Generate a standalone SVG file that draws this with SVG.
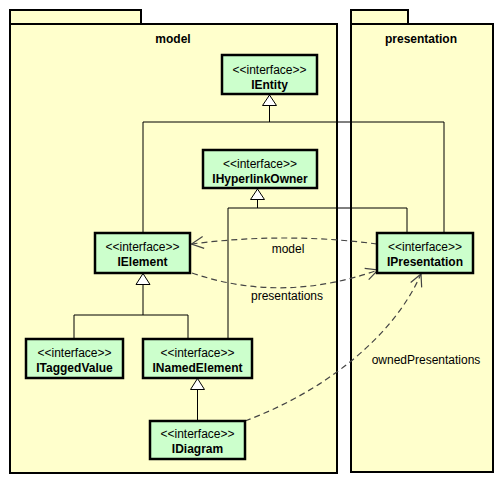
<svg xmlns="http://www.w3.org/2000/svg" width="503" height="484" viewBox="0 0 503 484">
<style>
.pkg{fill:#FFFFCC;stroke:#000;stroke-width:2}
.node{fill:#CCFFCC;stroke:#000;stroke-width:2.5}
.st{font-family:"Liberation Sans",Arial,sans-serif;font-size:12px;text-anchor:middle;fill:#000}
.nm{font-family:"Liberation Sans",Arial,sans-serif;font-size:12px;font-weight:bold;text-anchor:middle;fill:#000}
.lbl{font-family:"Liberation Sans",Arial,sans-serif;font-size:12px;text-anchor:middle;fill:#000}
.gen{fill:none;stroke:#000;stroke-width:1}
.tri{fill:#fff;stroke:#000;stroke-width:1}
.dep{fill:none;stroke:#444;stroke-width:1.2;stroke-dasharray:6,4}
</style>
<defs>
<marker id="open" markerUnits="userSpaceOnUse" markerWidth="14" markerHeight="14" refX="12" refY="6" orient="auto" overflow="visible">
<path d="M0,0 L12,6 L0,12" fill="none" stroke="#444" stroke-width="1.2"/>
</marker>
</defs>
<g id="pkg-model">
<rect class="pkg" x="10" y="10" width="131" height="14"/>
<rect class="pkg" x="10" y="24" width="327" height="449"/>
<text class="nm" x="173" y="43">model</text>
</g>
<g id="pkg-presentation">
<rect class="pkg" x="351" y="10" width="57" height="14"/>
<rect class="pkg" x="351" y="24" width="142" height="448"/>
<text class="nm" x="421" y="43">presentation</text>
</g>
<g id="connectors">
<polyline class="gen" points="143,233 143,122 444,122 444,233"/>
<line class="gen" x1="269.5" y1="105" x2="269.5" y2="122"/>
<polygon class="tri" points="269.5,95 262.5,105.5 276.5,105.5"/>
<polyline class="gen" points="228,339 228,208 407,208 407,233"/>
<line class="gen" x1="257.5" y1="199" x2="257.5" y2="208"/>
<polygon class="tri" points="257.5,189 250.5,199.5 264.5,199.5"/>
<polyline class="gen" points="74,339 74,315 188,315 188,339"/>
<line class="gen" x1="143" y1="284" x2="143" y2="315"/>
<polygon class="tri" points="143,273.5 136,284.5 150,284.5"/>
<line class="gen" x1="197.5" y1="389" x2="197.5" y2="421"/>
<polygon class="tri" points="197.5,378.5 190.5,389.5 204.5,389.5"/>
<path class="dep" d="M377,244 Q285,232 191.5,244" marker-end="url(#open)"/>
<path class="dep" d="M192,273 Q282,304 378,270" marker-end="url(#open)"/>
<path class="dep" d="M245,421 C320,393 392,340 421,274" marker-end="url(#open)"/>
<text class="lbl" x="288" y="253">model</text>
<text class="lbl" x="287" y="300">presentations</text>
<text class="lbl" x="426" y="364">ownedPresentations</text>
</g>
<g id="IEntity">
<rect class="node" x="222" y="55" width="95" height="39"/>
<text class="st" x="269.5" y="74">&lt;&lt;interface&gt;&gt;</text>
<text class="nm" x="269.5" y="89">IEntity</text>
</g>
<g id="IHyperlinkOwner">
<rect class="node" x="203" y="150" width="114" height="38"/>
<text class="st" x="260" y="168">&lt;&lt;interface&gt;&gt;</text>
<text class="nm" x="260" y="183">IHyperlinkOwner</text>
</g>
<g id="IElement">
<rect class="node" x="95" y="233" width="95" height="40"/>
<text class="st" x="142.5" y="251">&lt;&lt;interface&gt;&gt;</text>
<text class="nm" x="142.5" y="266">IElement</text>
</g>
<g id="IPresentation">
<rect class="node" x="377" y="233" width="96" height="40"/>
<text class="st" x="425" y="251">&lt;&lt;interface&gt;&gt;</text>
<text class="nm" x="425" y="266">IPresentation</text>
</g>
<g id="ITaggedValue">
<rect class="node" x="26" y="339" width="97" height="39"/>
<text class="st" x="74.5" y="357">&lt;&lt;interface&gt;&gt;</text>
<text class="nm" x="74.5" y="372">ITaggedValue</text>
</g>
<g id="INamedElement">
<rect class="node" x="143" y="339" width="109" height="39"/>
<text class="st" x="197.5" y="357">&lt;&lt;interface&gt;&gt;</text>
<text class="nm" x="197.5" y="372">INamedElement</text>
</g>
<g id="IDiagram">
<rect class="node" x="150" y="421" width="95" height="38"/>
<text class="st" x="197.5" y="438">&lt;&lt;interface&gt;&gt;</text>
<text class="nm" x="197.5" y="453">IDiagram</text>
</g>
</svg>
